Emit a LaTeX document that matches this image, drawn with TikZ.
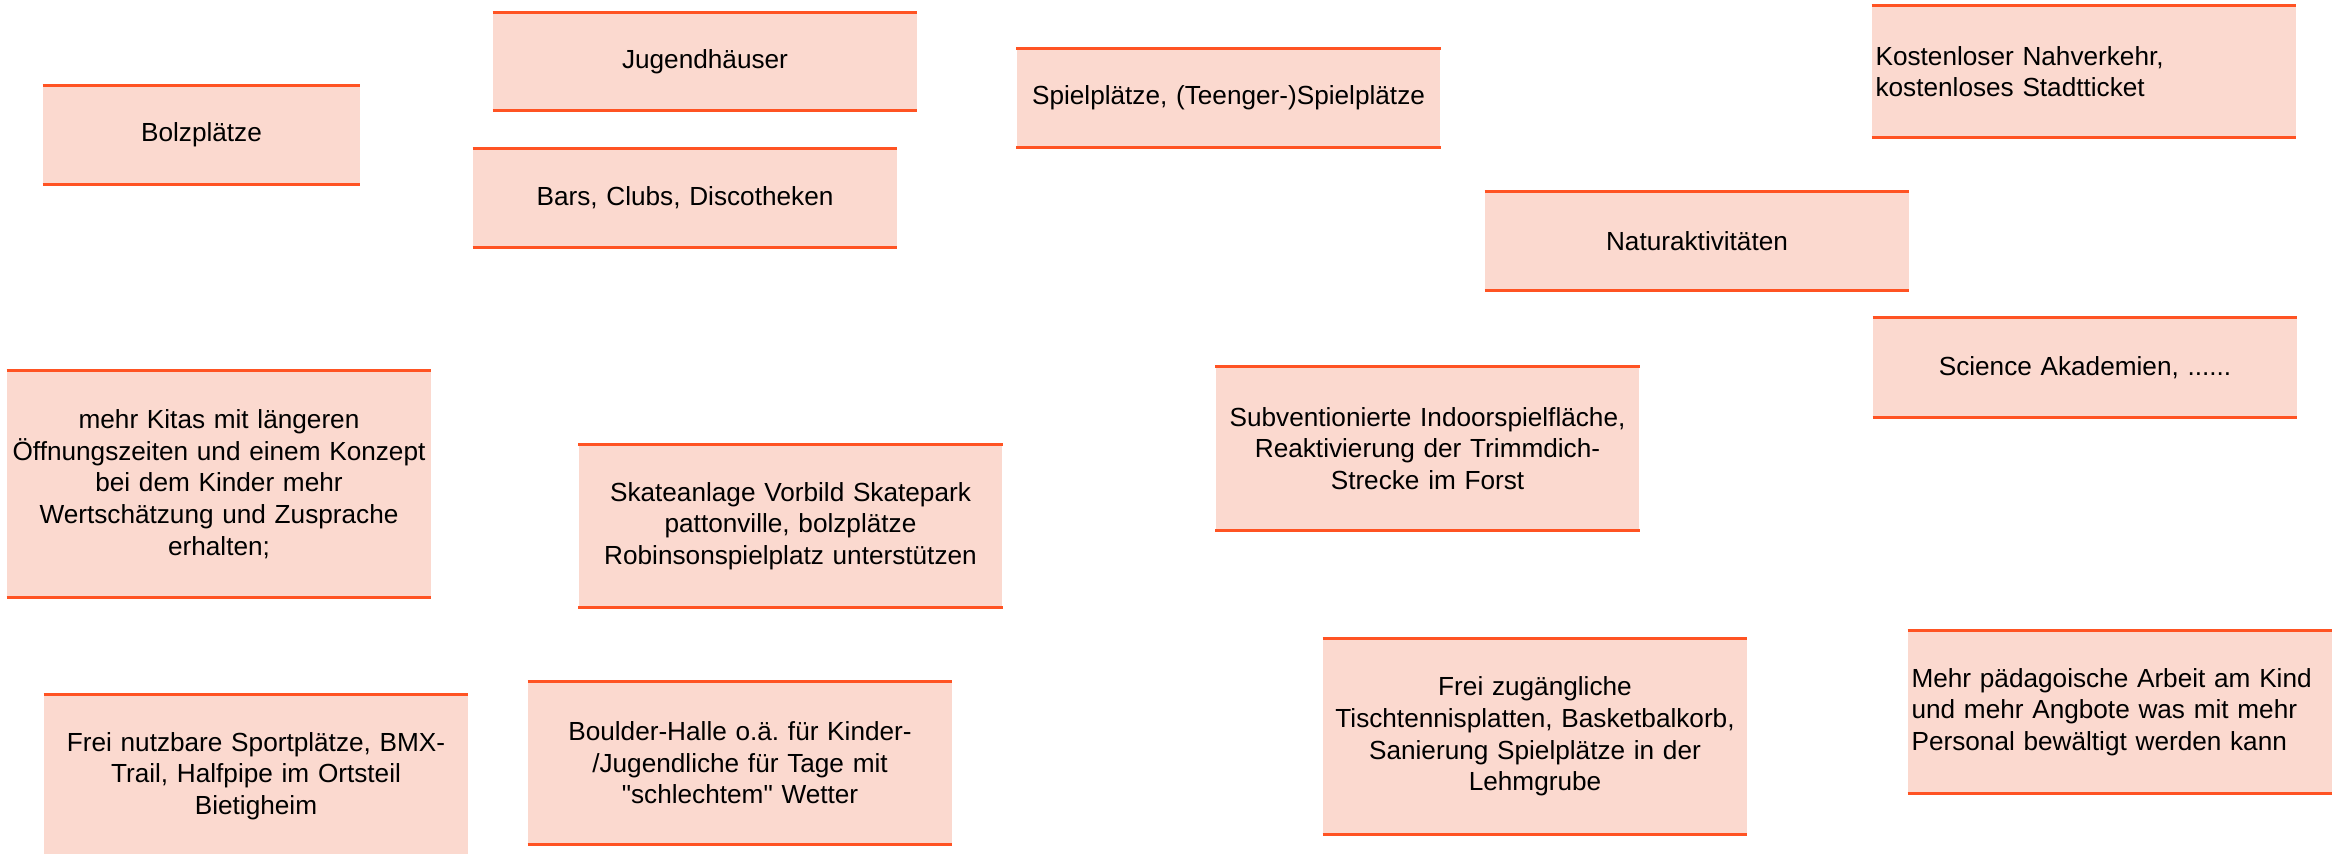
\documentclass[tikz,border=0pt]{standalone}
\usepackage{fontspec}
\setmainfont{Liberation Sans}[Ligatures=TeXOff]
\usetikzlibrary{positioning}
\frenchspacing

\definecolor{ideafill}{HTML}{FBD9CF}
\definecolor{ideaedge}{HTML}{FF5323}
\newcommand{\ideafont}{\fontsize{14.9}{18}\selectfont}

\tikzset{
  idea/.style={fill=ideafill, inner xsep=0.08cm, inner ysep=0pt, text width=8.32cm,
    align=center, minimum height=#1, font=\ideafont},
  idea/.default=1.96cm,
  leftidea/.style={idea=#1, align=left, inner xsep=0.07cm, text width=8.34cm},
  leftidea/.default=1.96cm,
  rule/.style={draw=ideaedge, line width=1.6pt}
}

\begin{document}
\begin{tikzpicture}[x=0.02cm,y=-0.02cm]
\clip (0,0) rectangle (2339,853);
% top row
\node[idea, text width=6.18cm] (bolz) at (201.5,135) {Bolzpl\"atze};
\node[idea=1.94cm] (jugend) at (705,61.5) {Jugendh\"auser};
\node[idea] (bars) at (685,198) {Bars, Clubs, Discotheken};
\node[idea] (spiel) at (1228.5,98) {Spielpl\"atze, (Teenger-)Spielpl\"atze};
\node[leftidea=2.62cm] (nahv) at (2084,71.5) {Kostenloser Nahverkehr,\\kostenloses Stadtticket};
\node[idea] (natur) at (1697,241) {Naturaktivit\"aten};
\node[idea=1.98cm] (science) at (2085,367.5) {Science Akademien, ......};
% middle row
\node[idea=4.52cm] (kitas) at (219,484) {mehr Kitas mit l\"angeren\\\"Offnungszeiten und einem Konzept\\bei dem Kinder mehr\\Wertsch\"atzung und Zusprache\\erhalten;};
\node[idea=3.24cm] (skate) at (790.5,526) {Skateanlage Vorbild Skatepark\\pattonville, bolzpl\"atze\\Robinsonspielplatz unterst\"utzen};
\node[idea=3.26cm] (subv) at (1427.5,448.5) {Subventionierte Indoorspielfl\"ache,\\Reaktivierung der Trimmdich-\\Strecke im Forst};
% bottom row
\node[idea=3.24cm] (sport) at (256,776) {Frei nutzbare Sportpl\"atze, BMX-\\Trail, Halfpipe im Ortsteil\\Bietigheim};
\node[idea=3.24cm] (boulder) at (740,763) {Boulder-Halle o.\"a. f\"ur Kinder-\\/Jugendliche f\"ur Tage mit\\"schlechtem" Wetter};
\node[idea=3.9cm] (tisch) at (1535,736.5) {Frei zug\"angliche\\Tischtennisplatten, Basketbalkorb,\\Sanierung Spielpl\"atze in der\\Lehmgrube};
\node[leftidea=3.24cm] (paed) at (2120,712) {Mehr p\"adagoische Arbeit am Kind\\und mehr Angbote was mit mehr\\Personal bew\"altigt werden kann};
\foreach \n in {bolz,jugend,bars,spiel,nahv,natur,science,kitas,skate,subv,sport,boulder,tisch,paed} {
  \draw[rule] (\n.north west) -- (\n.north east);
  \draw[rule] (\n.south west) -- (\n.south east);
}
\end{tikzpicture}
\end{document}
